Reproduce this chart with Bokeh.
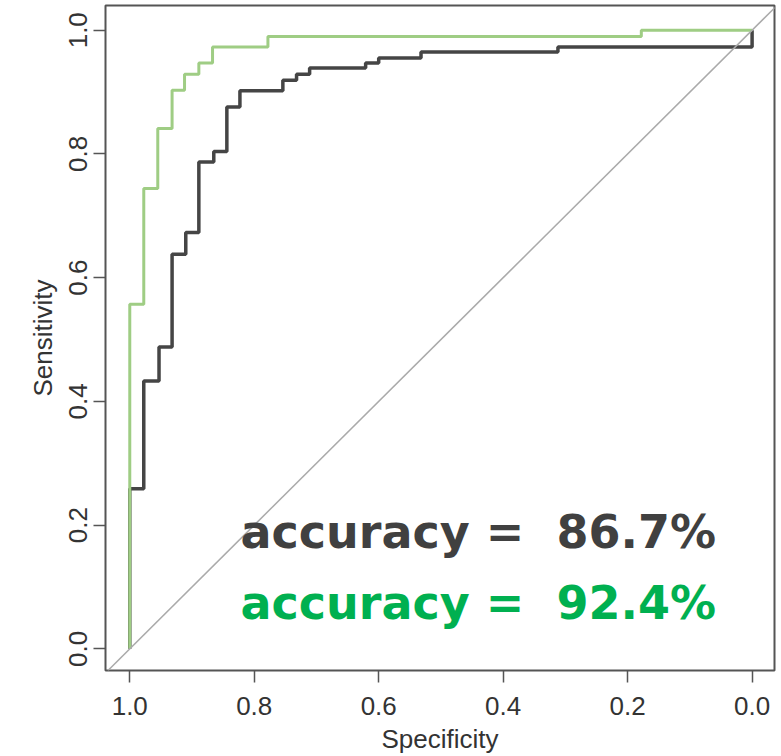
from bokeh.plotting import figure
from bokeh.models import Range1d, FixedTicker, PrintfTickFormatter, Slope, Label
from bokeh.embed import file_html
from bokeh.resources import INLINE

# ROC step data (specificity where sensitivity steps up, new sensitivity level)
spec_black = [1.0, 0.9775, 0.953, 0.932, 0.910, 0.889, 0.865, 0.844, 0.823, 0.754,
              0.732, 0.711, 0.621, 0.600, 0.532, 0.312, 0.0]
sens_black = [0.259, 0.433, 0.488, 0.638, 0.673, 0.787, 0.804, 0.876, 0.902, 0.919,
              0.929, 0.939, 0.947, 0.955, 0.965, 0.973, 1.0]

spec_green = [1.0, 0.9775, 0.955, 0.932, 0.912, 0.889, 0.867, 0.778, 0.178, 0.0]
sens_green = [0.557, 0.744, 0.841, 0.903, 0.929, 0.947, 0.973, 0.990, 1.0, 1.0]

ticks = [0.0, 0.2, 0.4, 0.6, 0.8, 1.0]
acc_black = "accuracy =\u00a0 86.7%"
acc_green = "accuracy =\u00a0 92.4%"


def staircase(spec, sens):
    xs, ys = [spec[0]], [0.0]
    for i in range(len(spec)):
        xs.append(spec[i]); ys.append(sens[i])
        if i + 1 < len(spec):
            xs.append(spec[i + 1]); ys.append(sens[i])
    return xs, ys


p = figure(width=781, height=756, output_backend="svg", toolbar_location=None,
           x_range=Range1d(1.039, -0.036), y_range=Range1d(-0.035, 1.04),
           min_border_left=105, min_border_right=7, min_border_top=5, min_border_bottom=83)

p.background_fill_color = "white"
p.border_fill_color = "white"
p.grid.visible = False
p.outline_line_color = "#555555"
p.outline_line_width = 2

for ax in (p.xaxis, p.yaxis):
    ax.ticker = FixedTicker(ticks=ticks)
    ax.formatter = PrintfTickFormatter(format="%.1f")
    ax.axis_line_color = None
    ax.major_tick_line_color = "#555555"
    ax.major_tick_line_width = 1.5
    ax.major_tick_out = 12
    ax.major_tick_in = 0
    ax.minor_tick_line_color = None
    ax.major_label_text_font = "Liberation Sans"
    ax.major_label_text_font_size = "26px"
    ax.major_label_text_color = "#333333"
    ax.axis_label_text_font = "Liberation Sans"
    ax.axis_label_text_font_size = "26px"
    ax.axis_label_text_font_style = "normal"
    ax.axis_label_text_color = "#333333"

p.xaxis.axis_label = "Specificity"
p.yaxis.axis_label = "Sensitivity"
p.xaxis.major_label_standoff = 14
p.xaxis.axis_label_standoff = 6
p.yaxis.major_label_orientation = "vertical"
p.yaxis.major_label_standoff = 6
p.yaxis.axis_label_standoff = 9

p.add_layout(Slope(gradient=-1, y_intercept=1, line_color="#aaaaaa", line_width=1.5))

bx, by = staircase(spec_black, sens_black)
gx, gy = staircase(spec_green, sens_green)
p.line(bx, by, line_color="#454545", line_width=3.5)
p.line(gx, gy, line_color="#9fcd84", line_width=3)

p.add_layout(Label(x=0.822, y=0.189, text=acc_black, text_font="DejaVu Sans",
                   text_font_style="bold", text_font_size="46px", text_color="#404040",
                   text_baseline="alphabetic"))
p.add_layout(Label(x=0.822, y=0.074, text=acc_green, text_font="DejaVu Sans",
                   text_font_style="bold", text_font_size="46px", text_color="#00b050",
                   text_baseline="alphabetic"))

open("out.html", "w").write(file_html(p, INLINE))
